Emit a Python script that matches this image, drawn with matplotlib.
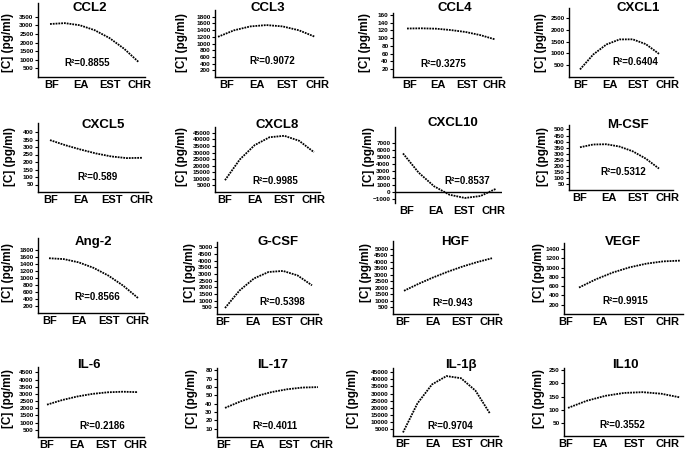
import numpy as np
import matplotlib
matplotlib.use('Agg')
import matplotlib.pyplot as plt

plt.rcParams['font.family'] = ['Liberation Sans', 'DejaVu Sans']
plt.rcParams['font.weight'] = 'bold'

stages = ['BF', 'EA', 'EST', 'CHR']
xs = [0, 0.5, 1, 1.5, 2, 2.5, 3]

names = ['CCL2', 'CCL3', 'CCL4', 'CXCL1',
         'CXCL5', 'CXCL8', 'CXCL10', 'M-CSF',
         'Ang-2', 'G-CSF', 'HGF', 'VEGF',
         'IL-6', 'IL-17', 'IL-1β', 'IL10']
r2 = ['0.8855', '0.9072', '0.3275', '0.6404',
      '0.589', '0.9985', '0.8537', '0.5312',
      '0.8566', '0.5398', '0.943', '0.9915',
      '0.2186', '0.4011', '0.9704', '0.3552']

ccl2 = [3080, 3130, 3010, 2725, 2270, 1640, 850]
ccl3 = [1200, 1395, 1510, 1550, 1510, 1395, 1200]
ccl4 = [125, 125.5, 124.5, 121, 116, 108, 97]
cxcl1 = [320, 950, 1375, 1590, 1595, 1390, 980]
cxcl5 = [346, 312, 283, 257, 237, 226, 228]
cxcl8 = [9000, 24800, 35700, 41700, 42800, 39000, 30300]
cxcl10 = [5475, 2780, 830, -375, -835, -555, 470]
mcsf = [353, 376, 378, 359, 320, 259, 177]
ang2 = [1570, 1545, 1452, 1295, 1073, 784, 430]
gcsf = [450, 1760, 2665, 3150, 3230, 2895, 2150]
hgf = [1780, 2320, 2810, 3250, 3645, 3985, 4280]
vegf = [570, 747, 893, 1005, 1085, 1134, 1150]
il6 = [2250, 2570, 2820, 3000, 3110, 3150, 3120]
il17 = [35, 42.8, 49.1, 54, 57.4, 59.5, 60]
il1b = [2500, 23100, 36400, 42300, 40800, 32000, 15800]
il10 = [107, 134, 153, 164, 167, 161, 147]
curves = [ccl2, ccl3, ccl4, cxcl1, cxcl5, cxcl8, cxcl10, mcsf,
          ang2, gcsf, hgf, vegf, il6, il17, il1b, il10]

# y axis: (min, max) and ticks (first, last, step)
yrange = [(0, 4300), (0, 2000), (0, 165), (0, 2920),
          (0, 460), (0, 49500), (-1545, 9220), (0, 537),
          (0, 2150), (0, 5400), (0, 5600), (0, 1530),
          (0, 4870), (0, 83), (0, 48000), (0, 259)]
yticks = [(500, 3500, 500), (200, 1800, 200), (20, 160, 20), (500, 2500, 500),
          (50, 400, 50), (5000, 45000, 5000), (-1000, 7000, 1000), (50, 500, 50),
          (200, 1800, 200), (500, 5000, 500), (500, 5000, 500), (200, 1400, 200),
          (500, 4500, 500), (10, 80, 10), (5000, 45000, 5000), (50, 250, 50)]

# layout in pixels: axis left, curve start, curve end, axis top, axis bottom
W, H = 685, 449
boxes = [(38, 50, 139, 3, 77), (215, 218, 315, 10, 77), (393, 407, 495, 13, 77), (569, 580, 659, 8, 77),
         (38, 50, 142, 123, 192), (215, 225, 314, 127, 192), (395, 403, 496, 127, 203), (569, 580, 659, 125, 190),
         (38, 49, 138, 238, 313), (217, 225, 312, 242, 314), (393, 404, 492, 241, 314), (564, 579, 680, 243, 314),
         (38, 47, 138, 367, 437), (217, 225, 318, 368, 437), (393, 403, 490, 368, 436), (564, 568, 680, 368, 436)]
# first / last category label centres
label_span = [(52, 139), (227, 317), (410, 495), (581, 667),
              (51, 142), (225, 314), (407, 493), (580, 667),
              (50, 138), (223, 312), (403, 492), (566, 668),
              (47, 136), (224, 322), (403, 492), (566, 668)]
title_pos = [(90, 8), (268, 8), (455, 8), (638, 8),
             (103, 125), (277, 125), (453, 123), (628, 125),
             (93, 242), (278, 242), (455, 242), (623, 242),
             (89, 365), (273, 365), (461, 365), (625, 365)]
r2_pos = [(87, 63), (272, 61), (443, 64), (635, 62),
          (97, 177), (275, 181), (467, 181), (623, 172),
          (97, 297), (282, 302), (453, 303), (625, 301),
          (102, 426), (275, 426), (450, 426), (622, 425)]
ylab_x = [8, 182, 365, 541,
          10, 182, 369, 543,
          8, 190, 366, 539,
          8, 192, 353, 539]
ylab_y = [42, 157, 272, 398]

fig = plt.figure(figsize=(6.85, 4.49), dpi=100)

for i, name in enumerate(names):
    L, x0, x1, top, bot = boxes[i]
    l0, l1 = label_span[i]
    u = (x1 - x0) / 3.0
    R = min(max(x1, l1) + 6, 683)
    ax = fig.add_axes([L / W, 1 - bot / H, (R - L) / W, (bot - top) / H])
    ax.plot(xs, curves[i], color='k', lw=1.3, ls=(0, (1, 0.55)), dash_capstyle='butt')
    ax.set_xlim((L - x0) / u, (R - x0) / u)
    ax.set_ylim(*yrange[i])
    a, b, s = yticks[i]
    ax.set_yticks(np.arange(a, b + s / 2, s))
    ax.set_xticks([(l0 + k * (l1 - l0) / 3.0 - x0) / u for k in range(len(stages))])
    ax.set_xticklabels(stages, fontsize=8, fontweight='bold')
    ax.tick_params(axis='x', length=0, pad=2)
    ax.tick_params(axis='y', length=2.5, width=0.8, pad=0.8, labelsize=4.6)
    for lab in ax.get_yticklabels():
        lab.set_fontweight('bold')
    ax.spines['top'].set_visible(False)
    ax.spines['right'].set_visible(False)
    ax.spines['left'].set_linewidth(1.0)
    ax.spines['bottom'].set_linewidth(1.0)
    if yrange[i][0] < 0:
        ax.spines['bottom'].set_visible(False)
        ax.axhline(0, color='k', lw=1.0)
    ax.patch.set_alpha(0)

    tx, ty = title_pos[i]
    fig.text(tx / W, 1 - ty / H, name, ha='center', va='center', fontsize=9.5, fontweight='bold')
    rx, ry = r2_pos[i]
    fig.text(rx / W, 1 - ry / H, 'R²=' + r2[i], ha='center', va='center', fontsize=7, fontweight='bold')
    fig.text(ylab_x[i] / W, 1 - ylab_y[i // 4] / H, '[C] (pg/ml)', rotation=90,
             ha='center', va='center', fontsize=8.5, fontweight='bold')

fig.savefig('out.png', dpi=100)
